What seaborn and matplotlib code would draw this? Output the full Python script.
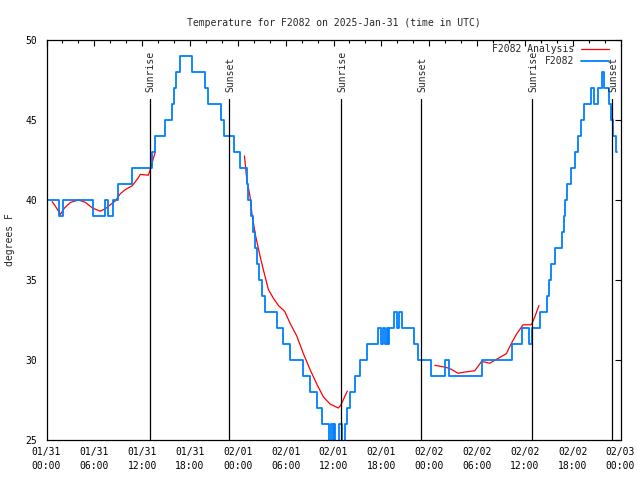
#!/usr/bin/env python3
"""Temperature trace for station F2082, gnuplot-like look, redrawn with seaborn."""

import matplotlib
matplotlib.use("Agg")
import pandas as pd
import matplotlib.pyplot as plt
from matplotlib.ticker import MultipleLocator
import seaborn as sns

# observed temperature, hours since 2025-01-31 00:00 UTC (value holds until next time)
obs_hours = [0.00, 1.54, 2.07, 5.85, 7.30, 7.73, 8.35, 8.98, 10.73, 13.27,
             13.65, 14.90, 15.74, 15.94, 16.28, 16.69, 18.28, 19.91, 20.29, 21.91,
             22.29, 23.48, 24.29, 25.11, 25.33, 25.61, 25.88, 26.17, 26.42, 26.71,
             27.01, 27.42, 28.96, 29.64, 30.49, 32.18, 33.02, 33.96, 34.60, 35.47,
             35.69, 35.90, 36.00, 36.13, 36.65, 37.04, 37.50, 37.75, 38.07, 38.69,
             39.32, 40.16, 41.61, 41.91, 42.20, 42.41, 42.74, 42.86, 42.99, 43.61,
             43.91, 44.16, 44.54, 46.08, 46.64, 48.21, 49.96, 50.43, 54.66, 58.41,
             59.67, 60.48, 60.92, 61.92, 62.82, 63.07, 63.26, 63.74, 64.65, 64.86,
             65.05, 65.28, 65.80, 66.33, 66.62, 66.99, 67.37, 68.24, 68.68, 69.12,
             69.71, 69.91, 70.50, 70.84, 71.12, 71.44, 71.56]
obs_temps = [40, 39, 40, 39, 40, 39, 40, 41, 42, 43,
             44, 45, 46, 47, 48, 49, 48, 47, 46, 45,
             44, 43, 42, 41, 40, 39, 38, 37, 36, 35,
             34, 33, 32, 31, 30, 29, 28, 27, 26, 24,
             26, 24, 26, 24, 26, 24, 26, 27, 28, 29,
             30, 31, 32, 31, 32, 31, 32, 31, 32, 33,
             32, 33, 32, 31, 30, 29, 30, 29, 30, 31,
             32, 31, 32, 33, 34, 35, 36, 37, 38, 39,
             40, 41, 42, 43, 44, 45, 46, 47, 46, 47,
             48, 47, 46, 45, 44, 43, 43]

# analysis curve, three separate pieces
ana1_hours = [0.71, 1.13, 1.75, 2.25, 3.01, 4.04, 4.88, 5.76, 6.76, 7.51,
              8.64, 9.27, 9.89, 10.77, 11.39, 11.77, 12.77, 13.02, 13.40, 13.65]
ana1_temps = [39.9, 39.6, 39.1, 39.5, 39.85, 40.0, 39.85, 39.5, 39.3, 39.5,
              39.95, 40.4, 40.65, 40.9, 41.3, 41.6, 41.55, 41.9, 42.6, 43.0]
ana2_hours = [24.83, 25.13, 25.54, 25.75, 26.17, 26.80, 27.22, 27.63, 27.84, 28.47,
              29.10, 29.71, 29.92, 30.55, 31.39, 32.22, 33.06, 33.90, 34.72, 35.56,
              36.60, 36.90, 37.73]
ana2_temps = [42.75, 41.25, 40.2, 39.2, 37.9, 36.46, 35.6, 34.8, 34.4, 33.85,
              33.4, 33.12, 33.0, 32.3, 31.5, 30.4, 29.4, 28.5, 27.7, 27.25,
              27.0, 27.16, 28.06]
ana3_hours = [48.71, 49.25, 50.14, 50.76, 51.63, 52.26, 53.72, 54.56, 55.00, 55.60,
              56.44, 57.69, 58.31, 58.94, 59.77, 60.82, 61.23, 61.77]
ana3_temps = [29.67, 29.62, 29.54, 29.42, 29.17, 29.23, 29.33, 29.9, 29.87, 29.8,
              30.04, 30.4, 31.04, 31.6, 32.2, 32.2, 32.67, 33.4]

sunrise_hours = [12.94, 36.94, 60.89]
sunset_hours = [22.95, 46.96, 70.91]

tick_hours = list(range(0, 73, 6))
tick_labels = ["01/31\n00:00", "01/31\n06:00", "01/31\n12:00", "01/31\n18:00",
               "02/01\n00:00", "02/01\n06:00", "02/01\n12:00", "02/01\n18:00",
               "02/02\n00:00", "02/02\n06:00", "02/02\n12:00", "02/02\n18:00",
               "02/03\n00:00"]

sns.set_style("white")
plt.rcParams["font.family"] = ["DejaVu Sans Mono"]
plt.rcParams["font.size"] = 7

RED = "#ff0000"
BLUE = "#0080ff"

fig = plt.figure(figsize=(6.4, 4.8), dpi=100)
ax = fig.add_axes([46.5 / 640, 1 - 440 / 480, 574 / 640, 400 / 480])

obs = pd.DataFrame({"hour": obs_hours, "temp": obs_temps})
pieces = [(ana1_hours, ana1_temps), (ana2_hours, ana2_temps), (ana3_hours, ana3_temps)]
for i, (h, t) in enumerate(pieces):
    piece = pd.DataFrame({"hour": h, "temp": t})
    sns.lineplot(data=piece, x="hour", y="temp", ax=ax, color=RED, linewidth=0.9,
                 estimator=None, sort=False,
                 label="F2082 Analysis" if i == 0 else None, legend=False)
sns.lineplot(data=obs, x="hour", y="temp", ax=ax, color=BLUE, linewidth=1.3,
             estimator=None, sort=False, drawstyle="steps-post",
             label="F2082", legend=False)

# sunrise / sunset markers
line_top = 46.3
for name, hours in [("Sunrise", sunrise_hours), ("Sunset", sunset_hours)]:
    for h in hours:
        ax.plot([h, h], [25, line_top], color="black", linewidth=0.9)
        ax.text(h + 0.15, 46.72, name, rotation=90, ha="center", va="bottom",
                fontsize=7)

ax.set_xlim(0, 72)
ax.set_ylim(25, 50)
ax.set_xticks(tick_hours)
ax.set_xticklabels(tick_labels, linespacing=1.45)
ax.xaxis.set_minor_locator(MultipleLocator(2))
ax.set_yticks(range(25, 51, 5))
ax.tick_params(which="both", direction="in", top=True, right=True,
               colors="black", width=0.8)
ax.tick_params(which="major", length=4.5)
ax.tick_params(which="minor", length=2.2)
ax.tick_params(axis="x", which="major", pad=5)
ax.tick_params(axis="y", which="major", pad=6.5)
for sp in ax.spines.values():
    sp.set_color("black")
    sp.set_linewidth(0.9)

ax.set_xlabel("")
ax.set_ylabel("degrees F", labelpad=8)
ax.set_title("Temperature for F2082 on 2025-Jan-31 (time in UTC)", pad=10,
             fontsize=7)

leg = ax.legend(loc="upper right", bbox_to_anchor=(0.98, 0.99), frameon=False,
                markerfirst=False, handlelength=2.9, handletextpad=0.7,
                labelspacing=0.25, borderpad=0, borderaxespad=0, fontsize=7)
leg.set_zorder(10)

fig.savefig("out.png", dpi=100)
plt.close(fig)
